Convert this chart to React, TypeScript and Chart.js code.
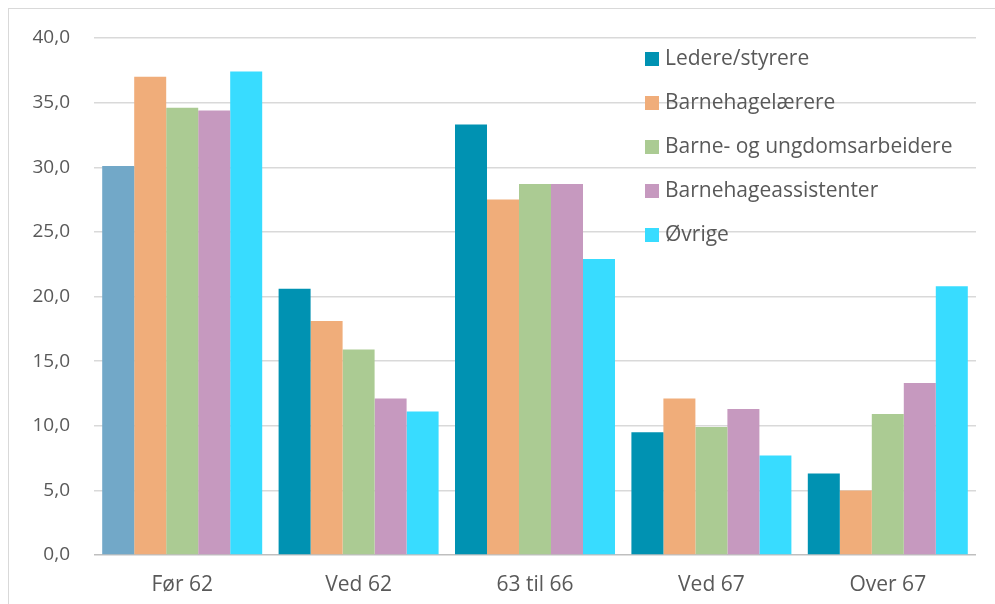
import React, { useEffect, useRef } from "react";
import { Chart, registerables } from "chart.js";

Chart.register(...registerables);

const categories = ["Før 62", "Ved 62", "63 til 66", "Ved 67", "Over 67"];
const seriesNames = [
  "Ledere/styrere",
  "Barnehagelærere",
  "Barne- og ungdomsarbeidere",
  "Barnehageassistenter",
  "Øvrige",
];
const ledere = [30.1, 20.6, 33.3, 9.5, 6.3];
const barnehagelaerere = [37.0, 18.1, 27.5, 12.1, 5.0];
const barneUngdom = [34.6, 15.9, 28.7, 9.9, 10.9];
const assistenter = [34.4, 12.1, 28.7, 11.3, 13.3];
const ovrige = [37.4, 11.1, 22.9, 7.7, 20.8];
const yTicks = [0, 5, 10, 15, 20, 25, 30, 35, 40];

const seriesColors = ["#0092B2", "#F0AD7A", "#ABCB93", "#C699BF", "#38DCFF"];
const firstLedereColor = "#72A8C8";

const FONT = "'Open Sans', sans-serif";
const TEXT = "#595959";

const legendPlugin = {
  id: "insideLegend",
  afterDraw(chart: any) {
    const ctx = chart.ctx;
    const area = chart.chartArea;
    const bx = area.right - 331;
    const y0 = area.top + 21;
    ctx.save();
    ctx.font = `21px ${FONT}`;
    ctx.textBaseline = "middle";
    ctx.textAlign = "left";
    seriesNames.forEach((name, i) => {
      const cy = y0 + i * 44;
      ctx.fillStyle = seriesColors[i];
      ctx.fillRect(bx, cy - 7, 14, 14);
      ctx.fillStyle = TEXT;
      ctx.fillText(name, bx + 20, cy);
    });
    ctx.restore();
  },
};

export default function App() {
  const ref = useRef<HTMLCanvasElement | null>(null);
  useEffect(() => {
    if (!ref.current) return;
    const data = [ledere, barnehagelaerere, barneUngdom, assistenter, ovrige];
    const chart = new Chart(ref.current, {
      type: "bar",
      data: {
        labels: categories,
        datasets: seriesNames.map((name, i) => ({
          label: name,
          data: data[i],
          backgroundColor:
            i === 0
              ? data[i].map((_, j) => (j === 0 ? firstLedereColor : seriesColors[0]))
              : seriesColors[i],
          borderWidth: 0,
          categoryPercentage: 0.907,
          barPercentage: 1,
        })),
      },
      options: {
        animation: false,
        responsive: false,
        maintainAspectRatio: false,
        layout: { padding: { top: 29, right: 19, bottom: 0, left: 0 } },
        plugins: {
          legend: { display: false },
          tooltip: { enabled: false },
        },
        scales: {
          x: {
            grid: { display: false, drawTicks: false },
            border: { display: false },
            afterFit: (s: any) => {
              s.height = 49;
              s.paddingLeft = 0;
              s.paddingRight = 0;
            },
            ticks: {
              color: TEXT,
              font: { family: FONT, size: 21 },
              padding: 17,
            },
          },
          y: {
            min: 0,
            max: 40,
            afterBuildTicks: (s: any) => {
              s.ticks = yTicks.map((v) => ({ value: v }));
            },
            afterFit: (s: any) => {
              s.width = 85;
              s.paddingTop = 0;
              s.paddingBottom = 0;
            },
            grid: {
              drawTicks: false,
              color: (c: any) => (c.tick && c.tick.value === 0 ? "#BFBFBF" : "#D9D9D9"),
              lineWidth: 1.5,
            },
            border: { display: false },
            ticks: {
              color: TEXT,
              font: { family: FONT, size: 19 },
              padding: 24,
              callback: (v: any) => Number(v).toFixed(1).replace(".", ","),
            },
          },
        },
      },
      plugins: [legendPlugin],
    });
    return () => chart.destroy();
  }, []);

  return (
    <div
      style={{
        position: "absolute",
        left: 8,
        top: 8,
        borderLeft: "1px solid #D9D9D9",
        borderTop: "1px solid #D9D9D9",
        width: 986,
        height: 595,
        background: "#fff",
      }}
    >
      <canvas ref={ref} width={986} height={595} style={{ display: "block" }} />
    </div>
  );
}
